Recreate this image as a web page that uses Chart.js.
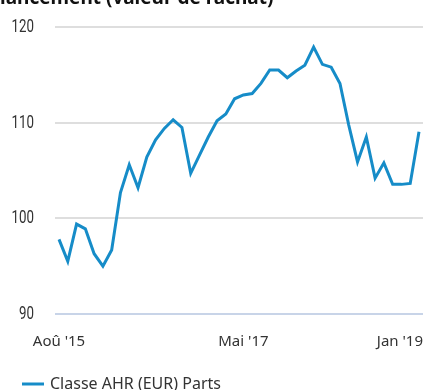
<!DOCTYPE html>
<html>
<head>
<meta charset="utf-8">
<script src="https://cdn.jsdelivr.net/npm/chart.js@4/dist/chart.umd.min.js"></script>
<style>
  html, body { margin: 0; padding: 0; background: #fff; }
  #wrap { position: relative; width: 423px; height: 390px; overflow: hidden; }
</style>
</head>
<body>
<div id="wrap"><canvas id="perfChart"></canvas></div>
<script>
// Monthly NAV, Aug 2015 -> Jan 2019
const months = [
  "Aoû '15","Sep '15","Oct '15","Nov '15","Déc '15",
  "Jan '16","Fév '16","Mar '16","Avr '16","Mai '16","Jui '16","Jul '16","Aoû '16","Sep '16","Oct '16","Nov '16","Déc '16",
  "Jan '17","Fév '17","Mar '17","Avr '17","Mai '17","Jui '17","Jul '17","Aoû '17","Sep '17","Oct '17","Nov '17","Déc '17",
  "Jan '18","Fév '18","Mar '18","Avr '18","Mai '18","Jui '18","Jul '18","Aoû '18","Sep '18","Oct '18","Nov '18","Déc '18",
  "Jan '19"
];
const navValues = [
  97.8, 95.5, 99.4, 98.9, 96.3, 95.0, 96.7, 102.7, 105.6, 103.2,
  106.4, 108.2, 109.4, 110.3, 109.5, 104.7, 106.6, 108.5, 110.2, 110.9,
  112.5, 112.9, 113.05, 114.1, 115.5, 115.5, 114.7, 115.4, 116.0, 117.9,
  116.1, 115.8, 114.1, 109.75, 105.9, 108.5, 104.2, 105.8, 103.55, 103.55,
  103.65, 109.05
];
const xTickIdx = [0, 21, 41];
const yTicks = [90, 100, 110, 120];
const seriesName = "Classe AHR (EUR) Parts";
const titleText = "lancement (valeur de rachat)";

const lineColor = "#168cc8";
const textColor = "#333333";

// axis labels, cut-off heading and legend are painted by hand
const extras = {
  id: 'extras',
  afterDraw(chart) {
    const ctx = chart.ctx;
    const xs = chart.scales.x;
    const ys = chart.scales.y;
    const W = chart.width;
    ctx.save();
    ctx.fillStyle = textColor;
    ctx.textBaseline = 'alphabetic';

    // narrow y labels: squeeze Roboto horizontally
    ctx.font = "19px 'Roboto'";
    ctx.textAlign = 'right';
    yTicks.forEach(v => {
      const y = ys.getPixelForValue(v);
      ctx.save();
      ctx.translate(34, y + 5);
      ctx.scale(0.7, 1);
      ctx.fillText(String(v), 0, 0);
      ctx.restore();
    });

    ctx.textAlign = 'left';
    ctx.font = "15px 'Noto Sans'";
    xTickIdx.forEach(i => {
      const label = months[i];
      const w = ctx.measureText(label).width;
      let x = xs.getPixelForValue(i) - w / 2;
      if (x + w > W) x = W - w;
      ctx.fillText(label, x, 346);
    });

    ctx.fillStyle = "#111";
    ctx.font = "bold 19px 'Noto Sans'";
    ctx.fillText(titleText, 0, 4);

    ctx.strokeStyle = lineColor;
    ctx.lineWidth = 3;
    ctx.beginPath();
    ctx.moveTo(22, 384);
    ctx.lineTo(44, 384);
    ctx.stroke();
    ctx.fillStyle = textColor;
    ctx.font = "16px 'Noto Sans'";
    ctx.fillText(seriesName, 50, 389);
    ctx.restore();
  }
};

new Chart(document.getElementById('perfChart'), {
  type: 'line',
  data: {
    datasets: [{
      label: seriesName,
      data: navValues.map((v, i) => ({ x: i, y: v })),
      borderColor: lineColor,
      borderWidth: 3,
      pointRadius: 0,
      tension: 0,
      fill: false
    }]
  },
  options: {
    responsive: true,
    maintainAspectRatio: false,
    animation: false,
    layout: { padding: { top: 27, bottom: 76, left: 0, right: 0 } },
    plugins: { legend: { display: false }, tooltip: { enabled: false } },
    scales: {
      x: {
        type: 'linear',
        display: false,
        min: -0.456,
        max: months.length - 1 + 0.456
      },
      y: {
        min: 90,
        max: 120,
        afterFit(scale) {
          scale.width = 55;
          scale.paddingTop = 0;
          scale.paddingBottom = 0;
        },
        afterBuildTicks(scale) { scale.ticks = yTicks.map(v => ({ value: v })); },
        border: { display: false },
        grid: {
          drawTicks: false,
          lineWidth: 2,
          color: c => c.tick && c.tick.value === 90 ? '#c8d4e8' : '#dedede'
        },
        ticks: { display: false }
      }
    }
  },
  plugins: [extras]
});
</script>
</body>
</html>
